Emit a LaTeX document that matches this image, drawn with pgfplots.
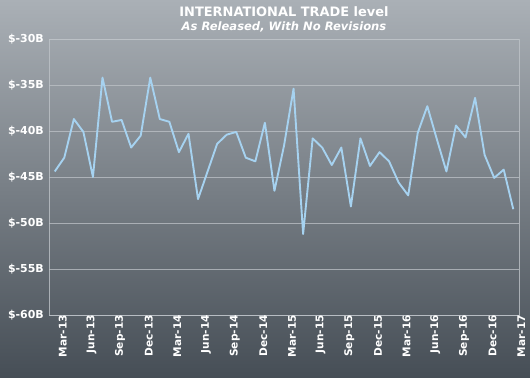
\documentclass[border=0pt]{standalone}
\usepackage{pgfplots}
\pgfplotsset{compat=1.18}
\usepackage{fontspec}
\setmainfont{DejaVu Sans}
\definecolor{bgtop}{RGB}{170,176,182}
\definecolor{bgbot}{RGB}{70,78,86}
\definecolor{linec}{RGB}{166,210,240}
\definecolor{gridc}{RGB}{190,195,200}
\begin{document}
\begin{tikzpicture}[x=1bp,y=1bp]
\shade[top color=bgtop,bottom color=bgbot] (0,0) rectangle (530,377);
\begin{axis}[
  at={(49bp,62bp)}, anchor=south west,
  scale only axis, width=470bp, height=276bp,
  xmin=-0.6, xmax=48.6, ymin=-60, ymax=-30,
  axis line style={draw=gridc, draw opacity=0.8, line width=0.7pt},
  ytick={-60,-55,-50,-45,-40,-35,-30},
  yticklabels={\$-60B,\$-55B,\$-50B,\$-45B,\$-40B,\$-35B,\$-30B},
  xtick={0,3,...,48},
  xticklabels={Mar-13,Jun-13,Sep-13,Dec-13,Mar-14,Jun-14,Sep-14,Dec-14,Mar-15,Jun-15,Sep-15,Dec-15,Mar-16,Jun-16,Sep-16,Dec-16,Mar-17},
  x tick label style={rotate=90, anchor=east, font=\bfseries\fontsize{10.6}{12}\selectfont, text=white, inner sep=0pt, yshift=-8bp},
  y tick label style={font=\bfseries\fontsize{11}{13}\selectfont, text=white, inner sep=0pt, xshift=-5bp},
  major tick length=0pt,
  ymajorgrids, major grid style={draw=gridc, draw opacity=0.75, line width=0.6pt},
  clip=false,
]
\addplot[linec, line width=1.9pt, line join=round] coordinates {
(0,-44.4)(1,-42.9)(2,-38.7)(3,-40.1)(4,-45.0)(5,-34.2)(6,-39.0)(7,-38.8)(8,-41.8)(9,-40.5)
(10,-34.2)(11,-38.7)(12,-39.0)(13,-42.3)(14,-40.3)(15,-47.4)(16,-44.4)(17,-41.4)(18,-40.4)(19,-40.1)
(20,-42.9)(21,-43.3)(22,-39.1)(23,-46.5)(24,-41.6)(25,-35.4)(26,-51.2)(27,-40.8)(28,-41.8)(29,-43.7)
(30,-41.8)(31,-48.2)(32,-40.8)(33,-43.8)(34,-42.3)(35,-43.3)(36,-45.6)(37,-47.0)(38,-40.2)(39,-37.3)
(40,-40.9)(41,-44.4)(42,-39.4)(43,-40.7)(44,-36.4)(45,-42.6)(46,-45.1)(47,-44.2)(48,-48.5)
};
\end{axis}
\node[text=white, font=\bfseries\fontsize{13}{15}\selectfont, inner sep=0pt] at (284,365.5) {INTERNATIONAL TRADE level};
\node[text=white, font=\bfseries\itshape\fontsize{11.6}{14}\selectfont, inner sep=0pt] at (284,350) {As Released, With No Revisions};
\pgfresetboundingbox
\path (0,0) rectangle (530,377);
\end{tikzpicture}
\end{document}
